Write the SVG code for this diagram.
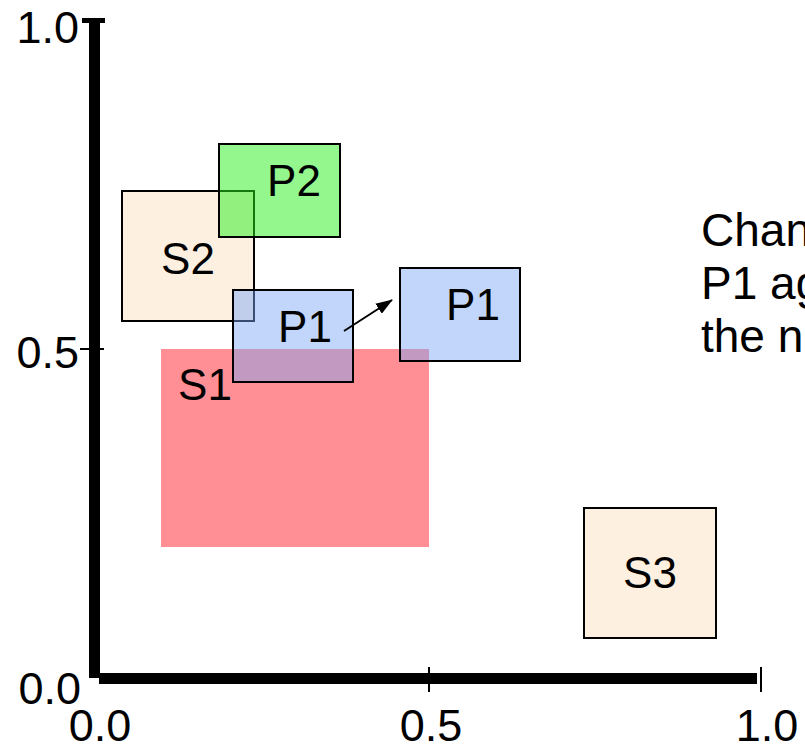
<svg xmlns="http://www.w3.org/2000/svg" width="805" height="748" viewBox="0 0 805 748">
<style>
text{font-family:"Liberation Sans",Arial,Helvetica,sans-serif;fill:#000}
.ax{font-size:45px}
.lbl{font-size:44px;text-anchor:middle}
.note{font-size:46px}
.box{stroke:#000;stroke-width:2}
.sbox{fill:#FDF0E1}
.pbox{fill:rgb(122,166,246);fill-opacity:0.46}
.tick{stroke:#000;stroke-width:2}
</style>
<defs>
<marker id="ah" markerWidth="17" markerHeight="12" refX="16" refY="6" orient="auto" markerUnits="userSpaceOnUse">
<path d="M0,0 L17,6 L0,12 Z" fill="#000"/>
</marker>
</defs>
<rect width="805" height="748" fill="#fff"/>
<g id="axes">
<rect x="89" y="20" width="11" height="658" fill="#000"/>
<rect x="99" y="673" width="658" height="11" fill="#000"/>
<rect x="82" y="18" width="23" height="5" fill="#000"/>
<line class="tick" x1="80" y1="349" x2="104" y2="349"/>
<line class="tick" x1="429" y1="667" x2="429" y2="692"/>
<line class="tick" x1="761" y1="667" x2="761" y2="692"/>
<text class="ax" x="79" y="43" text-anchor="end">1.0</text>
<text class="ax" x="79" y="368" text-anchor="end">0.5</text>
<text class="ax" x="81" y="704" text-anchor="end">0.0</text>
<text class="ax" x="100" y="741" text-anchor="middle">0.0</text>
<text class="ax" x="431" y="741" text-anchor="middle">0.5</text>
<text class="ax" x="767" y="741" text-anchor="middle">1.0</text>
</g>
<g id="S1">
<rect x="161" y="349" width="268" height="198" fill="#FF8E95"/>
<text class="lbl" x="205" y="400">S1</text>
</g>
<g id="S2">
<rect class="box sbox" x="122" y="191" width="132" height="130"/>
<text class="lbl" x="188" y="274">S2</text>
</g>
<g id="S3">
<rect class="box sbox" x="584" y="508" width="132" height="130"/>
<text class="lbl" x="650" y="588">S3</text>
</g>
<g id="P2">
<rect class="box" x="219" y="144" width="121" height="93" fill="rgb(40,240,30)" fill-opacity="0.5"/>
<text class="lbl" x="294" y="196">P2</text>
</g>
<g id="P1">
<rect class="box pbox" x="233" y="290" width="120" height="92"/>
<text class="lbl" x="305" y="342">P1</text>
</g>
<g id="P1-moved">
<rect class="box pbox" x="400" y="268" width="120" height="93"/>
<text class="lbl" x="473" y="320">P1</text>
</g>
<g id="connectors">
<line x1="344" y1="331" x2="392" y2="300" stroke="#000" stroke-width="2" marker-end="url(#ah)"/>
</g>
<g id="note">
<text class="note" x="701" y="246">Chan</text>
<text class="note" x="701" y="299">P1 ag</text>
<text class="note" x="701" y="352">the n</text>
</g>
</svg>
